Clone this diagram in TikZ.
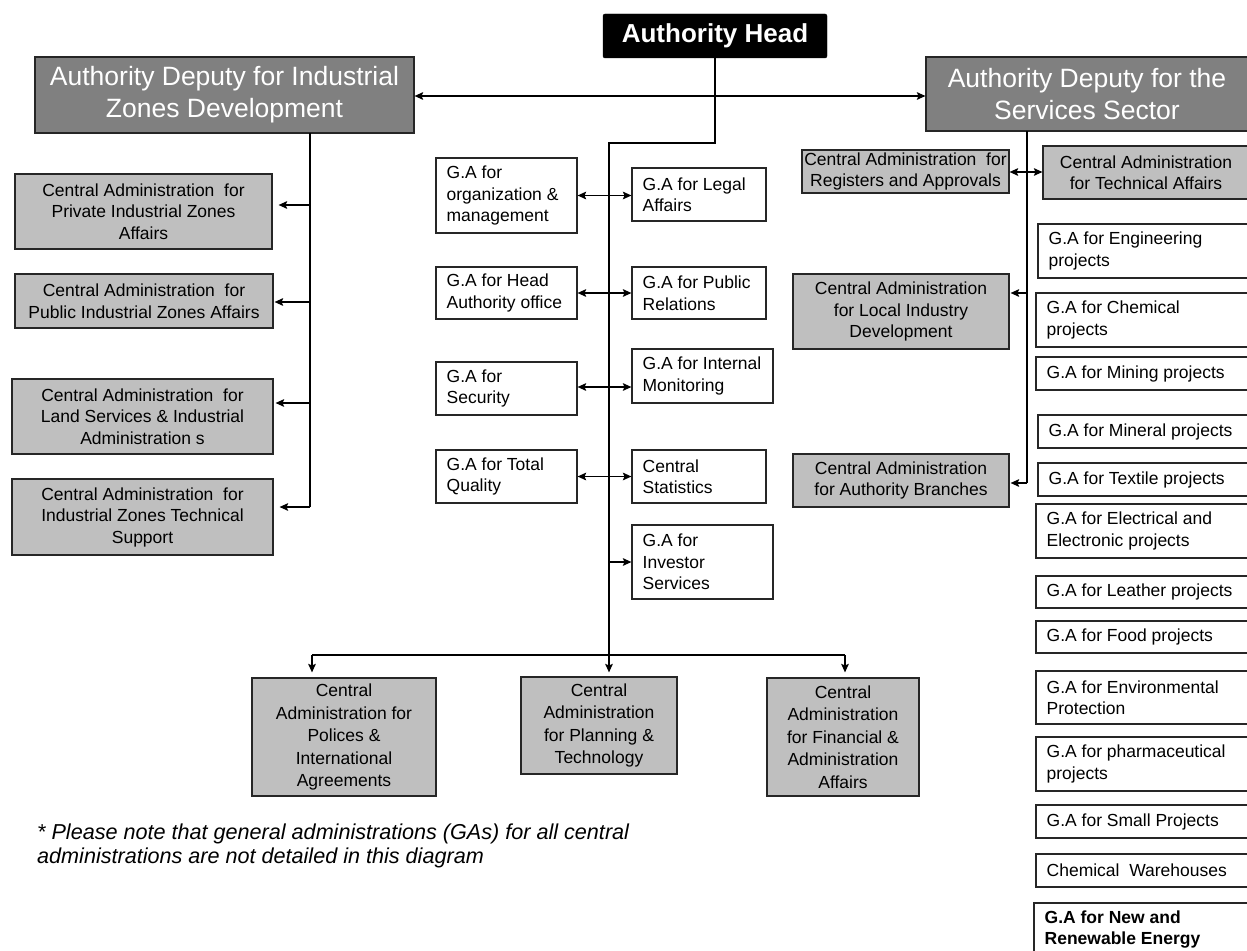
\documentclass[tikz,border=0pt]{standalone}
\usepackage{fontspec}
\setmainfont{Liberation Sans}
\usetikzlibrary{arrows.meta}
\newcommand\boxgeom[4]{%
  \pgfmathsetmacro\myW{#3-#1}%
  \pgfmathsetmacro\myH{#4-#2}%
  \pgfmathsetmacro\myX{(#1+#3)/2}%
  \pgfmathsetmacro\myY{(#2+#4)/2}}
% centred text box: name, x1, y1, x2, y2, box style, text style, text
\newcommand\cbx[8]{%
  \boxgeom{#2}{#3}{#4}{#5}%
  \node[#6, minimum width=\myW pt, minimum height=\myH pt] (#1) at (\myX,\myY) {};%
  \node[txt, align=center, #7] (#1-t) at (#1.center) {#8};}
% left aligned text box
\newcommand\lbx[8]{%
  \boxgeom{#2}{#3}{#4}{#5}%
  \node[#6, minimum width=\myW pt, minimum height=\myH pt] (#1) at (\myX,\myY) {};%
  \node[txt, align=left, anchor=west, #7] (#1-t) at ([xshift=11pt]#1.west) {#8};}
\tikzset{
  txt/.style={inner sep=0pt, font=\fontsize{17.5}{21.5}\selectfont},
  bot/.style={font=\fontsize{17.5}{22.5}\selectfont},
  gbox/.style={draw=black!85, line width=1.1pt, fill=black!25, inner sep=0pt},
  wbox/.style={draw=black!85, line width=1.1pt, fill=white, inner sep=0pt},
  dep/.style={draw=black!85, line width=1.1pt, fill=black!50, inner sep=0pt},
  deptxt/.style={text=white, font=\fontsize{26.5}{32}\selectfont},
  headbox/.style={draw=black, fill=black, rounded corners=2pt, inner sep=0pt},
  headtxt/.style={text=white, font=\bfseries\fontsize{26}{30}\selectfont},
  conn/.style={line width=1.8pt, draw=black},
  tip/.tip={Stealth[length=8.5pt,width=7.5pt,inset=1.5pt]},
  arr/.style={conn, -tip},
  darr/.style={conn, tip-tip},
}
\begin{document}
\begin{tikzpicture}[x=1pt,y=-1pt]
\useasboundingbox (0,0) rectangle (1247,950);
\clip (0,0) rectangle (1247,950);
\fill[white] (0,0) rectangle (1247,950);

% top level
\cbx{hd}{603}{14}{827}{58}{headbox}{headtxt}{Authority Head}
\cbx{ld}{35}{57}{414}{133}{dep}{deptxt}{Authority Deputy for Industrial\\Zones Development}
\cbx{rd}{926}{57}{1248}{131}{dep}{deptxt}{Authority Deputy for the\\Services Sector}

% left column
\cbx{priv}{15}{174}{272}{249}{gbox}{}{Central Administration\ \ for\\Private Industrial Zones\\Affairs}
\cbx{pub}{15}{274}{273}{328}{gbox}{}{Central Administration\ \ for\\Public Industrial Zones Affairs}
\cbx{land}{12}{379}{273}{454}{gbox}{}{Central Administration\ \ for\\Land Services \& Industrial\\Administration s}
\cbx{tech}{12}{479}{273}{555}{gbox}{}{Central Administration\ \ for\\Industrial Zones Technical\\Support}

% centre column
\lbx{org}{436}{158}{577}{233}{wbox}{}{G.A for\\organization \&\\management}
\lbx{legal}{632}{168}{766}{221}{wbox}{}{G.A for Legal\\Affairs}
\lbx{hoff}{436}{267}{577}{319}{wbox}{}{G.A for Head\\Authority office}
\lbx{pr}{632}{267}{766}{319}{wbox}{}{G.A for Public\\Relations}
\lbx{sec}{436}{362}{577}{415}{wbox}{}{G.A for\\Security}
\lbx{mon}{632}{349}{773}{403}{wbox}{}{G.A for Internal\\Monitoring}
\lbx{qual}{436}{450}{577}{503}{wbox}{}{G.A for Total\\Quality}
\lbx{stat}{632}{450}{766}{503}{wbox}{}{Central\\Statistics}
\lbx{inv}{632}{525}{773}{599}{wbox}{}{G.A for\\Investor\\Services}

% bottom row
\cbx{pol}{252}{678}{436}{796}{gbox}{bot}{Central\\Administration for\\Polices \&\\International\\Agreements}
\cbx{plan}{521}{677}{677}{774}{gbox}{bot}{Central\\Administration\\for Planning \&\\Technology}
\cbx{fin}{767}{678}{919}{796}{gbox}{bot}{Central\\Administration\\for Financial \&\\Administration\\Affairs}

% right side grey
\cbx{reg}{802}{150}{1009}{193}{gbox}{}{Central Administration\ \ for\\Registers and Approvals}
\cbx{tecf}{1043}{146}{1249}{199}{gbox}{}{Central Administration\\for Technical Affairs}
\cbx{loc}{793}{274}{1009}{349}{gbox}{}{Central Administration\\for Local Industry\\Development}
\cbx{bra}{793}{454}{1009}{507}{gbox}{}{Central Administration\\for Authority Branches}

% right column GAs
\lbx{eng}{1038}{224}{1252}{278}{wbox}{}{G.A for Engineering\\projects}
\lbx{chem}{1036}{293}{1252}{347}{wbox}{}{G.A for Chemical\\projects}
\lbx{mine}{1036}{357}{1252}{390}{wbox}{}{G.A for Mining projects}
\lbx{minr}{1038}{415}{1252}{448}{wbox}{}{G.A for Mineral projects}
\lbx{tex}{1038}{463}{1252}{496}{wbox}{}{G.A for Textile projects}
\lbx{elec}{1036}{504}{1252}{558}{wbox}{}{G.A for Electrical and\\Electronic projects}
\lbx{lea}{1036}{576}{1252}{608}{wbox}{}{G.A for Leather projects}
\lbx{food}{1036}{621}{1252}{653}{wbox}{}{G.A for Food projects}
\lbx{env}{1036}{671}{1252}{724}{wbox}{}{G.A for Environmental\\Protection}
\lbx{pha}{1036}{737}{1252}{791}{wbox}{}{G.A for pharmaceutical\\projects}
\lbx{small}{1036}{805}{1252}{838}{wbox}{}{G.A for Small Projects}
\lbx{ware}{1036}{854}{1252}{887}{wbox}{}{Chemical\ \ Warehouses}
\lbx{ren}{1034}{903}{1252}{956}{wbox}{font=\bfseries\fontsize{17.5}{21.5}\selectfont}{G.A for New and\\Renewable Energy}

% note
\node[anchor=north west, align=left, inner sep=0pt, font=\itshape\fontsize{21.6}{24}\selectfont] (note) at (37,824)
  {* Please note that general administrations (GAs) for all central\\administrations are not detailed in this diagram};

% connectors: top
\coordinate (dy) at (0,96);
\draw[darr] (ld.east |- dy) -- (rd.west |- dy);
\coordinate (j1) at (609,143);
\coordinate (bm) at (609,655);
\draw[conn] (hd.south) |- (j1) -- (bm);

% centre arrows
\draw[darr] (org.east) -- (org.east -| legal.west);
\draw[darr] (hoff.east) -- (hoff.east -| pr.west);
\coordinate (sy) at (0,387);
\draw[darr] (sec.east |- sy) -- (mon.west |- sy);
\draw[darr] (qual.east) -- (qual.east -| stat.west);
\draw[arr] (inv.west -| bm) -- (inv.west);

% bottom bus
\coordinate (bl) at (312,655);
\coordinate (br) at (845,655);
\draw[conn] (bl) -- (br);
\draw[arr, shorten >=5pt] (bl) -- (bl |- pol.north);
\draw[arr, shorten >=4pt] (bm) -- (bm |- plan.north);
\draw[arr, shorten >=5pt] (br) -- (br |- fin.north);

% left trunk
\coordinate (lt0) at (310,133);
\coordinate (lt1) at (310,205);
\coordinate (lt2) at (310,302);
\coordinate (lt3) at (310,403);
\coordinate (lt4) at (310,507);
\draw[conn] (lt0) -- (lt4);
\draw[arr, shorten >=6pt] (lt1) -- (lt1 -| priv.east);
\draw[arr, shorten >=1pt] (lt2) -- (lt2 -| pub.east);
\draw[arr, shorten >=2pt] (lt3) -- (lt3 -| land.east);
\draw[arr, shorten >=6pt] (lt4) -- (lt4 -| tech.east);

% right trunk
\coordinate (rt0) at (1027,131);
\coordinate (rt1) at (1027,293);
\coordinate (rt2) at (1027,483);
\draw[conn] (rt0) -- (rt2);
\draw[arr, shorten >=1pt] (rt1) -- (rt1 -| loc.east);
\draw[arr, shorten >=1pt] (rt2) -- (rt2 -| bra.east);
\coordinate (ry) at (0,172);
\draw[darr] (reg.east |- ry) -- (tecf.west |- ry);
\end{tikzpicture}
\end{document}
